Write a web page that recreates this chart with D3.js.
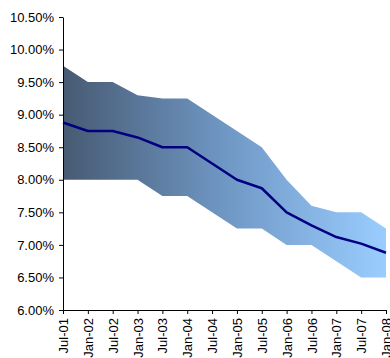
<!DOCTYPE html>
<html>
<head>
<meta charset="utf-8">
<script src="https://cdn.jsdelivr.net/npm/d3@7"></script>
<style>
  body { margin: 0; background: #fff; }
  text { font-family: "Liberation Sans", Arial, sans-serif; }
</style>
</head>
<body>
<div id="chart"></div>
<script>
// dates along the category axis
const periods = ["Jul-01", "Jan-02", "Jul-02", "Jan-03", "Jul-03", "Jan-04", "Jul-04",
    "Jan-05", "Jul-05", "Jan-06", "Jul-06", "Jan-07", "Jul-07", "Jan-08"];

// band upper / lower edge and central line (percent)
const upper = [9.75, 9.50, 9.50, 9.30, 9.25, 9.25, 9.00, 8.75, 8.50, 8.00, 7.60, 7.50, 7.50, 7.25];
const lower = [8.00, 8.00, 8.00, 8.00, 7.75, 7.75, 7.50, 7.25, 7.25, 7.00, 7.00, 6.75, 6.50, 6.50];
const mid = [8.88, 8.75, 8.75, 8.65, 8.50, 8.50, 8.25, 8.00, 7.87, 7.50, 7.30, 7.12, 7.02, 6.88];

const yTicks = [6.0, 6.5, 7.0, 7.5, 8.0, 8.5, 9.0, 9.5, 10.0, 10.5];

const width = 390;
const height = 358;
const margin = { left: 63, right: 4, top: 17, bottom: 48 };

const svg = d3.select("#chart")
    .append("svg")
    .attr("width", width)
    .attr("height", height);

const x = d3.scalePoint()
    .domain(periods)
    .range([margin.left, width - margin.right]);

const y = d3.scaleLinear()
    .domain([6, 10.5])
    .range([height - margin.bottom, margin.top]);

const rows = periods.map((p, i) => ({ p: p, lo: lower[i], hi: upper[i], m: mid[i] }));

// gradient fill for the band
const grad = svg.append("defs").append("linearGradient")
    .attr("id", "bandGrad")
    .attr("gradientUnits", "userSpaceOnUse")
    .attr("x1", x(periods[0])).attr("x2", x(periods[periods.length - 1]))
    .attr("y1", 0).attr("y2", 0);
grad.append("stop").attr("offset", "0%").attr("stop-color", "#475a72");
grad.append("stop").attr("offset", "50%").attr("stop-color", "#6f97c4");
grad.append("stop").attr("offset", "100%").attr("stop-color", "#9acdff");

const area = d3.area()
    .x(d => x(d.p))
    .y0(d => y(d.lo))
    .y1(d => y(d.hi));

svg.append("path")
    .datum(rows)
    .attr("d", area)
    .attr("fill", "url(#bandGrad)");

const line = d3.line()
    .x(d => x(d.p))
    .y(d => y(d.m));

svg.append("path")
    .datum(rows)
    .attr("d", line)
    .attr("fill", "none")
    .attr("stroke", "#000080")
    .attr("stroke-width", 2.5)
    .attr("stroke-linejoin", "round");

// y axis
const yAxis = svg.append("g")
    .attr("transform", `translate(${margin.left},0)`)
    .call(d3.axisLeft(y).tickValues(yTicks).tickSize(4).tickSizeOuter(0)
        .tickFormat(d => d.toFixed(2) + "%"));
yAxis.select(".domain").attr("stroke", "#000");
yAxis.selectAll("text")
    .attr("font-size", "13px")
    .attr("font-family", "Liberation Sans, Arial, sans-serif")
    .attr("fill", "#000")
    .attr("dx", "-2");

// x axis
const xAxis = svg.append("g")
    .attr("transform", `translate(0,${height - margin.bottom})`)
    .call(d3.axisBottom(x).tickSize(4).tickSizeOuter(0));
xAxis.select(".domain").attr("stroke", "#000");
xAxis.selectAll("text")
    .attr("font-size", "13px")
    .attr("font-family", "Liberation Sans, Arial, sans-serif")
    .attr("fill", "#000")
    .attr("transform", "rotate(-90)")
    .attr("text-anchor", "end")
    .attr("x", -8)
    .attr("y", 0)
    .attr("dy", "0.35em");
</script>
</body>
</html>
